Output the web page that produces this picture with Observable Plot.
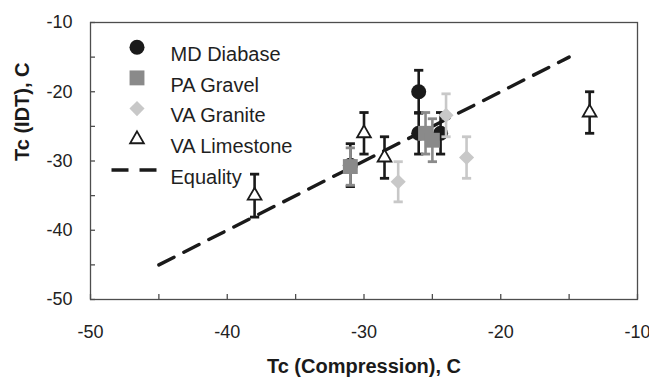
<!DOCTYPE html>
<html>
<head>
<meta charset="utf-8">
<script src="https://cdn.jsdelivr.net/npm/d3@7"></script>
<script src="https://cdn.jsdelivr.net/npm/@observablehq/plot@0.6"></script>
<style>
  html, body { margin: 0; padding: 0; background: #fff; }
  #chart svg { display: block; }
</style>
</head>
<body>
<div id="chart"></div>
<script>
// ---- data ----
const xTicks = [-50, -40, -30, -20, -10];
const yTicks = [-10, -20, -30, -40, -50];
const minorTicks = [-50, -45, -40, -35, -30, -25, -20, -15, -10];

const diabaseX   = [-31, -26, -26, -24.4];
const diabaseY   = [-30.6, -20, -26, -26];
const diabaseErr = [3.1, 3.1, 3.0, 3.0];

const gravelX   = [-31, -25.5, -25];
const gravelY   = [-30.8, -26, -27];
const gravelErr = [2.7, 3.0, 3.1];

const graniteX   = [-27.5, -24, -22.5];
const graniteY   = [-33, -23.4, -29.5];
const graniteErr = [2.9, 3.1, 3.0];

const limestoneX   = [-38, -30, -28.5, -13.5];
const limestoneY   = [-35, -26, -29.5, -23];
const limestoneErr = [3.1, 3.0, 3.0, 3.0];

const equalityX = [-45, -15];
const equalityY = [-45, -15];

const legendLabels = ["MD Diabase", "PA Gravel", "VA Granite", "VA Limestone", "Equality"];
const xTitle = "Tc (Compression), C";
const yTitle = "Tc (IDT), C";

// ---- build tables ----
const rows = (xs, ys, es) => xs.map((x, i) => ({x, y: ys[i], lo: ys[i] - es[i], hi: ys[i] + es[i]}));
const diabase = rows(diabaseX, diabaseY, diabaseErr);
const gravel = rows(gravelX, gravelY, gravelErr);
const granite = rows(graniteX, graniteY, graniteErr);
const limestone = rows(limestoneX, limestoneY, limestoneErr);
const equality = equalityX.map((x, i) => ({x, y: equalityY[i]}));

// ---- styles ----
const BLACK = "#1a1a1a", GRAY = "#8a8a8a", LIGHT = "#c8c8c8", AXIS = "#4d4d4d";
const capSymbol = {draw(ctx) { ctx.moveTo(-4.6, 0); ctx.lineTo(4.6, 0); }};
const dashSymbol = {draw(ctx) { ctx.moveTo(-22.5, 0); ctx.lineTo(22.5, 0); }};

const W = 649, H = 377, mL = 90, mR = 12, mT = 22, mB = 78;
const fw = W - mL - mR, fh = H - mT - mB;

function errorBars(data, color) {
  return [
    Plot.ruleX(data, {x: "x", y1: "lo", y2: "hi", stroke: color, strokeWidth: 2.6}),
    Plot.dot(data, {x: "x", y: "lo", symbol: capSymbol, fill: "none", stroke: color, strokeWidth: 2.8}),
    Plot.dot(data, {x: "x", y: "hi", symbol: capSymbol, fill: "none", stroke: color, strokeWidth: 2.8})
  ];
}

const markerStyles = [
  {symbol: "circle", r: 7.5, fill: BLACK, stroke: "none"},
  {symbol: "square", r: 8.4, fill: GRAY, stroke: "none"},
  {symbol: "diamond2", r: 6.8, fill: LIGHT, stroke: "none"},
  {symbol: "triangle", r: 5.1, fill: "white", stroke: BLACK, strokeWidth: 1.8}
];

const legendX = 46.5, legendTextX = 80, legendY0 = 24.7, legendStep = 30.7;
const legendMarks = [];
legendLabels.forEach((label, i) => {
  const dy = legendY0 + i * legendStep;
  if (i < 4) {
    legendMarks.push(Plot.dot([label], {frameAnchor: "top-left", dx: legendX, dy, ...markerStyles[i]}));
  } else {
    legendMarks.push(Plot.dot([label], {frameAnchor: "top-left", dx: legendX - 3, dy, symbol: dashSymbol,
      fill: "none", stroke: BLACK, strokeWidth: 3.4, strokeDasharray: "17,11"}));
  }
  legendMarks.push(Plot.text([label], {frameAnchor: "top-left", dx: legendTextX, dy: dy - 0.6, text: d => d,
    textAnchor: "start", fontSize: 20, fill: "#1f1f1f"}));
});

const chart = Plot.plot({
  width: W, height: H,
  marginLeft: mL, marginRight: mR, marginTop: mT, marginBottom: mB,
  style: {fontFamily: "'Liberation Sans', Arial, Helvetica, sans-serif", fontSize: "18px", color: "#222", background: "#fff"},
  x: {domain: [-50, -10], ticks: xTicks, tickSize: 0, tickPadding: 26, label: null, tickFormat: d => String(d).replace("−", "-")},
  y: {domain: [-50, -10], ticks: yTicks, tickSize: 0, tickPadding: 18, label: null, tickFormat: d => String(d).replace("−", "-")},
  marks: [
    Plot.frame({stroke: AXIS, strokeWidth: 1.3}),
    Plot.ruleX(minorTicks, {insetTop: fh - 5, stroke: AXIS, strokeWidth: 1.3}),
    Plot.ruleY(minorTicks, {insetRight: fw - 5, stroke: AXIS, strokeWidth: 1.3}),
    Plot.line(equality, {x: "x", y: "y", stroke: BLACK, strokeWidth: 3.4, strokeDasharray: "17,11"}),
    ...errorBars(diabase, BLACK),
    Plot.dot(diabase, {x: "x", y: "y", ...markerStyles[0]}),
    ...errorBars(gravel, GRAY),
    Plot.dot(gravel, {x: "x", y: "y", ...markerStyles[1]}),
    ...errorBars(granite, LIGHT),
    Plot.dot(granite, {x: "x", y: "y", ...markerStyles[2]}),
    ...errorBars(limestone, BLACK),
    Plot.dot(limestone, {x: "x", y: "y", ...markerStyles[3]}),
    ...legendMarks,
    Plot.text([xTitle], {frameAnchor: "bottom", dy: 73, lineAnchor: "bottom", text: d => d,
      fontWeight: "bold", fontSize: 20, fill: "#1a1a1a"}),
    Plot.text([yTitle], {frameAnchor: "left", dx: -68, rotate: -90, text: d => d,
      fontWeight: "bold", fontSize: 20, fill: "#1a1a1a"})
  ]
});
document.getElementById("chart").appendChild(chart);
</script>
</body>
</html>
